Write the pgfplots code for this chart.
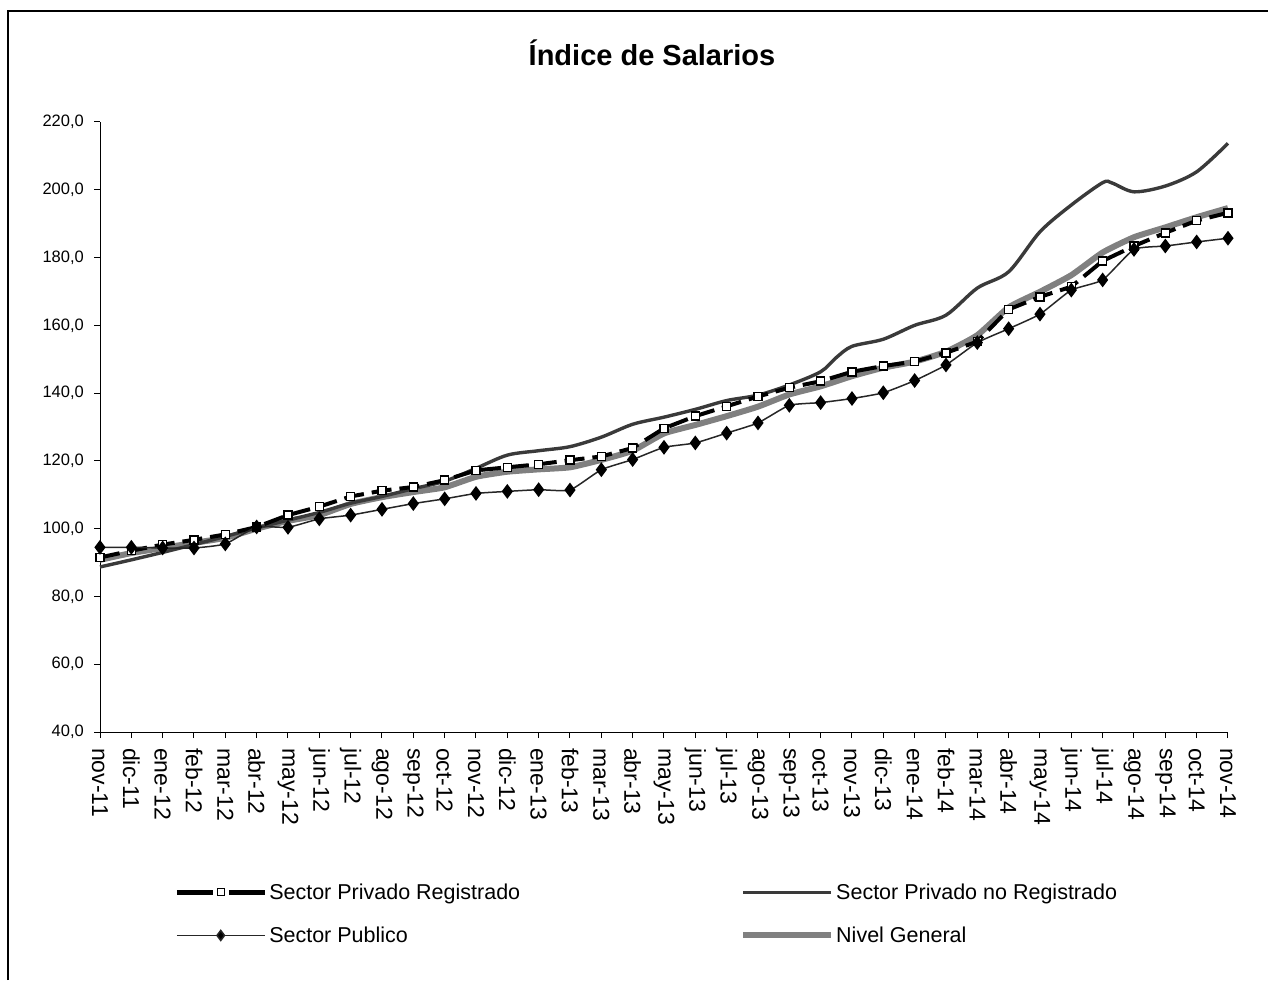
\documentclass[border=0pt]{standalone}
\usepackage{fontspec}
\setmainfont{Liberation Sans}
\usepackage{pgfplots}
\pgfplotsset{compat=1.18}
\usepackage{pgfplotstable}

\definecolor{noregc}{HTML}{3A3A3A}
\definecolor{genc}{HTML}{808080}

\pgfplotstableread{
idx reg pub gen
0 91.5 94.5 90.8
1 93.5 94.5 92.8
2 95.3 94.3 94.3
3 96.7 94.3 95.8
4 98.3 95.5 97.3
5 100.5 100.5 100.0
6 104.0 100.4 102.3
7 106.5 102.9 104.0
8 109.5 104.0 107.3
9 111.2 105.7 109.3
10 112.3 107.4 110.8
11 114.3 108.8 112.2
12 117.2 110.4 115.3
13 118.1 111.0 116.8
14 119.0 111.5 117.5
15 120.2 111.4 118.1
16 121.3 117.4 120.3
17 123.8 120.4 123.0
18 129.6 124.0 128.1
19 133.2 125.3 130.6
20 136.1 128.2 133.2
21 139.0 131.2 136.0
22 141.6 136.4 139.6
23 143.5 137.2 142.0
24 146.3 138.4 145.0
25 148.0 140.1 147.5
26 149.3 143.7 149.3
27 151.9 148.3 152.2
28 155.2 154.9 157.1
29 164.7 159.0 165.3
30 168.4 163.3 169.9
31 171.4 170.4 174.8
32 179.0 173.4 181.5
33 183.4 182.4 186.0
34 187.3 183.4 188.9
35 190.9 184.6 191.9
36 193.2 185.7 194.6
}\datatable

\pgfplotstableread{
idx noreg
0 88.7
1 90.8
2 93.0
3 95.3
4 97.7
5 100.2
6 102.5
7 104.8
8 107.5
9 109.5
10 111.8
11 114.0
12 117.8
13 121.7
14 123.0
15 124.2
16 127.0
17 130.8
18 132.9
19 135.2
20 137.8
21 139.4
22 142.4
23 146.3
23.5 150.5
24 153.8
25 155.9
26 160.0
27 163.0
28 171.0
29 175.8
30 187.6
31 195.5
32 202.1
32.3 202.0
33 199.4
34 201.1
35 205.3
36 213.7
}\noregtable

\begin{document}
\begin{tikzpicture}
\path[use as bounding box] (0pt,0pt) rectangle (1268pt,980pt);
\draw[line width=1.5pt] (8pt,0pt) -- (8pt,969pt) -- (1268pt,969pt);
\node[font=\bfseries\fontsize{29}{34}\selectfont, anchor=base] at (652pt,914pt) {Índice de Salarios};
\begin{axis}[
  at={(100pt,248pt)}, anchor=south west,
  scale only axis, width=1128pt, height=610pt,
  xmin=0, xmax=36, ymin=40, ymax=220,
  axis x line*=bottom, axis y line*=left,
  axis line style={black, line width=1pt, -},
  tick style={black, line width=1pt},
  major tick length=6pt,
  tick align=outside,
  clip=false,
  xtick={0,...,36},
  xticklabels={nov-11,dic-11,ene-12,feb-12,mar-12,abr-12,may-12,jun-12,jul-12,ago-12,sep-12,oct-12,nov-12,dic-12,ene-13,feb-13,mar-13,abr-13,may-13,jun-13,jul-13,ago-13,sep-13,oct-13,nov-13,dic-13,ene-14,feb-14,mar-14,abr-14,may-14,jun-14,jul-14,ago-14,sep-14,oct-14,nov-14},
  x tick label style={rotate=-90, anchor=west, font=\fontsize{23}{26}\selectfont, inner sep=0pt, xshift=10pt},
  ytick={40,60,...,220},
  yticklabels={{40,0},{60,0},{80,0},{100,0},{120,0},{140,0},{160,0},{180,0},{200,0},{220,0}},
  y tick label style={font=\fontsize{16.5}{20}\selectfont, inner sep=0pt, xshift=-10pt},
  legend columns=2,
  legend cell align=left,
  legend image code/.code={\draw[mark repeat=2,mark phase=2,#1] plot coordinates {(0pt,0pt) (44pt,0pt) (88pt,0pt)};},
  legend style={draw=none, fill=none, at={(axis description cs:0.063,-0.242)}, anchor=north west,
    font=\fontsize{21.5}{24}\selectfont, row sep=22pt,
    /tikz/every even column/.append style={column sep=218pt},
    nodes={inner sep=2pt}},
]
\addplot[genc, line width=6pt, smooth, tension=0.3, forget plot] table[x=idx,y=gen]{\datatable};
\addplot[noregc, line width=3.4pt, smooth, tension=0.5, forget plot] table[x=idx,y=noreg]{\noregtable};
\addplot[black, line width=4pt, dash pattern=on 20pt off 8pt, mark=square*, mark size=4pt,
  mark options={solid, fill=white, draw=black, line width=1.5pt}, forget plot] table[x=idx,y=reg]{\datatable};
\addplot[black!85, line width=1.5pt, smooth, tension=0.3, mark=diamond*, mark size=6.2pt,
  mark options={solid, fill=black, draw=black}, forget plot] table[x=idx,y=pub]{\datatable};

\addlegendimage{black, line width=5pt, dash pattern=on 36pt off 16pt, mark=square*, mark size=3.5pt, mark options={solid, fill=white, draw=black, line width=1.2pt}}
\addlegendentry{Sector Privado Registrado}
\addlegendimage{noregc, line width=3.4pt}
\addlegendentry{Sector Privado no Registrado}
\addlegendimage{black!85, line width=1.5pt, mark=diamond*, mark size=5pt, mark options={fill=black}}
\addlegendentry{Sector Publico}
\addlegendimage{genc, line width=6pt}
\addlegendentry{Nivel General}
\end{axis}
\end{tikzpicture}
\end{document}
